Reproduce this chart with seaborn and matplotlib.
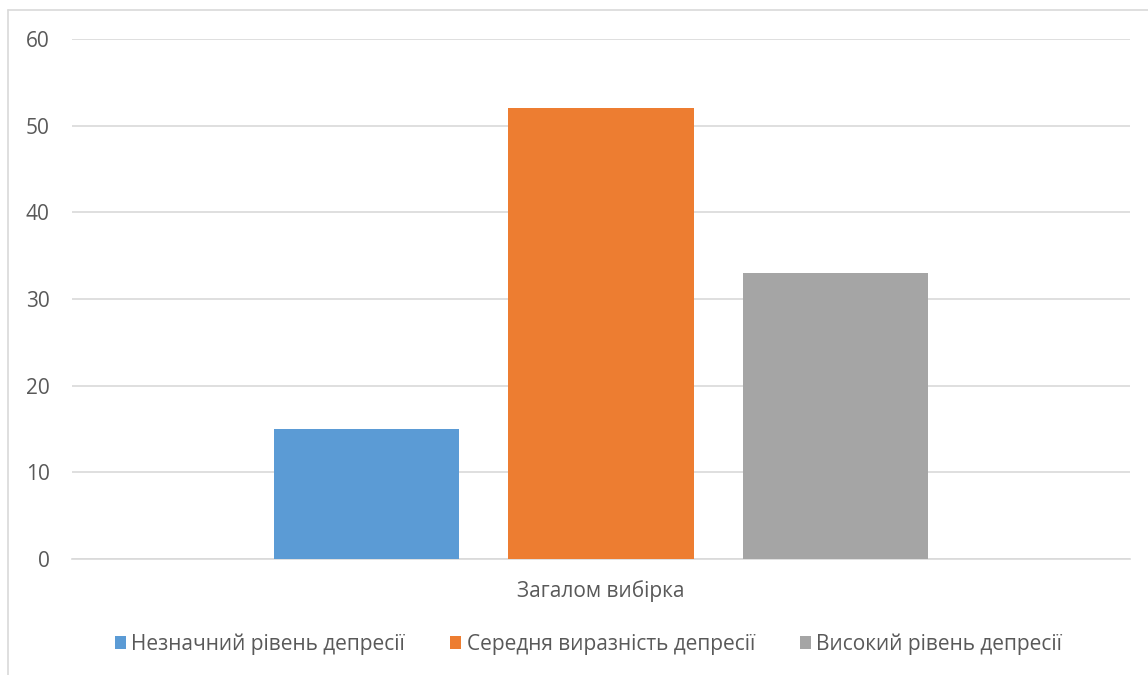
import matplotlib
matplotlib.use("Agg")
import matplotlib.pyplot as plt
from matplotlib.lines import Line2D
import seaborn as sns
import pandas as pd

category = ["Загалом вибірка"]
series = ["Незначний рівень депресії", "Середня виразність депресії", "Високий рівень депресії"]
values = [15, 52, 33]
colors = ["#5B9BD5", "#ED7D31", "#A5A5A5"]
y_ticks = [0, 10, 20, 30, 40, 50, 60]

df = pd.DataFrame({
    "group": category * len(series),
    "level": series,
    "count": values,
})

sns.set_theme(style="white")
plt.rcParams["font.family"] = ["Open Sans", "DejaVu Sans"]
text_color = "#595959"

fig = plt.figure(figsize=(11.48, 6.75), dpi=100)
ax = fig.add_axes([72 / 1148, 1 - 559 / 675, (1130 - 72) / 1148, (559 - 39) / 675])

sns.barplot(data=df, x="group", y="count", hue="level", palette=colors,
            width=0.665, gap=0.211, saturation=1, ax=ax, legend=True,
            linewidth=0, zorder=3)

ax.set_xlim(-0.5, 0.5)
ax.set_ylim(0, 60)
ax.set_yticks(y_ticks)
ax.yaxis.grid(True, color="#D9D9D9", linewidth=1.2, zorder=0)
ax.set_axisbelow(True)
for s in ["top", "right", "left"]:
    ax.spines[s].set_visible(False)
ax.spines["bottom"].set_color("#D9D9D9")
ax.spines["bottom"].set_linewidth(1.2)
ax.tick_params(axis="y", length=0, pad=16, labelsize=15, labelcolor=text_color)
ax.tick_params(axis="x", length=0, pad=15, labelsize=15, labelcolor=text_color)
ax.set_xlabel("")
ax.set_ylabel("")

handles, labels = ax.get_legend_handles_labels()
ax.get_legend().remove()
fig.legend(handles, labels, loc="center", bbox_to_anchor=(588.5 / 1148, 1 - 644 / 675),
           ncol=3, frameon=False, fontsize=15, labelcolor=text_color,
           handlelength=0.55, handleheight=0.55, handletextpad=0.25,
           columnspacing=2.15)

# chart area outline (left and top edges)
fig.add_artist(Line2D([7.5 / 1148, 7.5 / 1148], [0, 1 - 10 / 675],
                      color="#D9D9D9", linewidth=1.2, transform=fig.transFigure))
fig.add_artist(Line2D([7.5 / 1148, 1], [1 - 10 / 675, 1 - 10 / 675],
                      color="#D9D9D9", linewidth=1.2, transform=fig.transFigure))

fig.savefig("out.png", dpi=100, facecolor="white")
